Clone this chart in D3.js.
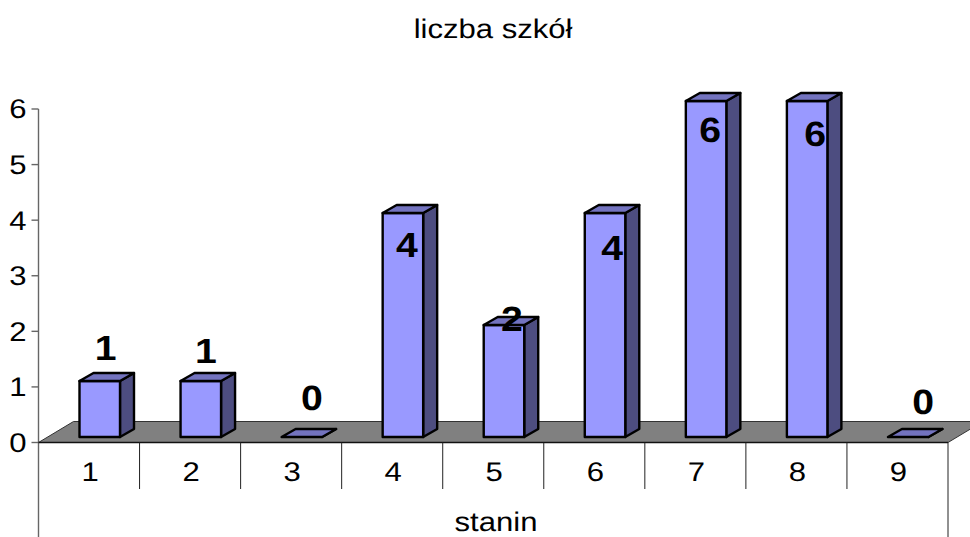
<!DOCTYPE html>
<meta charset="utf-8">
<style>
html, body { margin: 0; padding: 0; background: #fff; }
svg { display: block; }
text { font-family: "Liberation Sans", Arial, sans-serif; fill: #000; text-rendering: geometricPrecision; }
.tick-label { font-size: 27px; }
.bar-label { font-size: 35px; font-weight: bold; }
</style>
<svg class="chart"></svg>
<script src="https://d3js.org/d3.v7.min.js"></script>
<script>

var categories = ['1', '2', '3', '4', '5', '6', '7', '8', '9'];
var values = [1, 1, 0, 4, 2, 4, 6, 6, 0];
var yTicks = [0, 1, 2, 3, 4, 5, 6];
var title = 'liczba szkół';
var xTitle = 'stanin';

var width = 970;
var height = 537;

// floor front edge and the oblique offset used for the fake 3d
var left = 38.5, right = 948, floorY = 442.5;
var floorDx = 35, floorDy = -21;
var barDx = 14, barDy = -8;
var barBaseY = 437;

// the picture is stretched sideways, text has to follow
var textStretch = 1.15;
var labelStretch = 1.12;

// hand placed data labels, same as in the picture (dx, dy from bar top centre)
var labelNudge = [
  [6, -33], [5, -30], [10, -39], [4, 32], [8, -6], [7, 35], [4, 29], [8, 33], [15, -35]
];

var svg = d3.select('svg.chart')
  .attr('width', width)
  .attr('height', height);

var x = d3.scaleBand()
  .domain(categories)
  .range([left, right]);

var y = d3.scaleLinear()
  .domain([0, 6])
  .range([floorY, 109]);

var barH = d3.scaleLinear()
  .domain([0, 6])
  .range([0, 336]);

var barW = 40.5;
var barOffset = 41;

function stretched (sel, fx, fy, sx) {
  sel.attr('transform', function (d, i) {
    return 'translate(' + fx(d, i) + ',' + fy(d, i) + ') scale(' + sx + ',1)';
  });
}

svg.append('path')
  .attr('d', 'M' + left + ',' + floorY + 'L' + (left + floorDx) + ',' + (floorY + floorDy) +
    'L' + (right + floorDx) + ',' + (floorY + floorDy) + 'L' + right + ',' + floorY + 'Z')
  .attr('fill', '#808080')
  .attr('stroke', '#333')
  .attr('stroke-width', 1);

// value axis
svg.append('line')
  .attr('x1', left).attr('x2', left)
  .attr('y1', y(6)).attr('y2', height)
  .attr('stroke', '#666').attr('stroke-width', 1.4);

var yTick = svg.append('g').selectAll('g')
  .data(yTicks)
  .enter().append('g')
  .attr('transform', function (d) { return 'translate(0,' + y(d) + ')'; });

yTick.append('line')
  .attr('x1', left - 7).attr('x2', left)
  .attr('stroke', '#666').attr('stroke-width', 1.4);

yTick.append('text')
  .attr('class', 'tick-label')
  .attr('transform', 'translate(18,0) scale(' + textStretch + ',1)')
  .attr('dy', '0.35em')
  .attr('text-anchor', 'middle')
  .text(function (d) { return d; });

// category axis
svg.append('line')
  .attr('x1', left).attr('x2', right)
  .attr('y1', floorY).attr('y2', floorY)
  .attr('stroke', '#111').attr('stroke-width', 1.6);

svg.append('g').selectAll('line')
  .data(categories.slice(1))
  .enter().append('line')
  .attr('x1', function (d) { return x(d); })
  .attr('x2', function (d) { return x(d); })
  .attr('y1', floorY)
  .attr('y2', 489)
  .attr('stroke', '#222');

svg.append('line')
  .attr('x1', right).attr('x2', right)
  .attr('y1', floorY).attr('y2', height)
  .attr('stroke', '#222');

svg.append('g').selectAll('text')
  .data(categories)
  .enter().append('text')
  .attr('class', 'tick-label')
  .attr('text-anchor', 'middle')
  .text(function (d) { return d; })
  .call(stretched, function (d) { return x(d) + x.bandwidth() / 2 + 1; }, function () { return 481; }, textStretch);

// bars
var bar = svg.append('g').selectAll('g')
  .data(values)
  .enter().append('g')
  .attr('transform', function (d, i) {
    return 'translate(' + (x(categories[i]) + barOffset) + ',' + (barBaseY - barH(d)) + ')';
  })
  .attr('stroke', '#000')
  .attr('stroke-width', 2.4)
  .attr('stroke-linejoin', 'round');

bar.append('path')
  .attr('fill', '#4d4d80')
  .attr('d', function (d) {
    return 'M' + barW + ',0L' + (barW + barDx) + ',' + barDy +
      'L' + (barW + barDx) + ',' + (barH(d) + barDy) + 'L' + barW + ',' + barH(d) + 'Z';
  });

bar.append('rect')
  .attr('fill', '#9999ff')
  .attr('width', barW)
  .attr('height', function (d) { return barH(d); });

bar.append('path')
  .attr('fill', '#7373bf')
  .attr('d', 'M0,0L' + barDx + ',' + barDy + 'L' + (barW + barDx) + ',' + barDy + 'L' + barW + ',0Z');

svg.append('g').selectAll('text')
  .data(values)
  .enter().append('text')
  .attr('class', 'bar-label')
  .attr('dy', '0.35em')
  .attr('text-anchor', 'middle')
  .text(function (d) { return d; })
  .call(stretched,
    function (d, i) { return x(categories[i]) + barOffset + barW / 2 + labelNudge[i][0]; },
    function (d, i) { return barBaseY - barH(d) + labelNudge[i][1]; },
    labelStretch);

svg.append('text')
  .attr('class', 'tick-label')
  .attr('text-anchor', 'middle')
  .attr('transform', 'translate(493,38) scale(' + textStretch + ',1)')
  .text(title);

svg.append('text')
  .attr('class', 'tick-label')
  .attr('text-anchor', 'middle')
  .attr('transform', 'translate(496,531) scale(' + textStretch + ',1)')
  .text(xTitle);

</script>
